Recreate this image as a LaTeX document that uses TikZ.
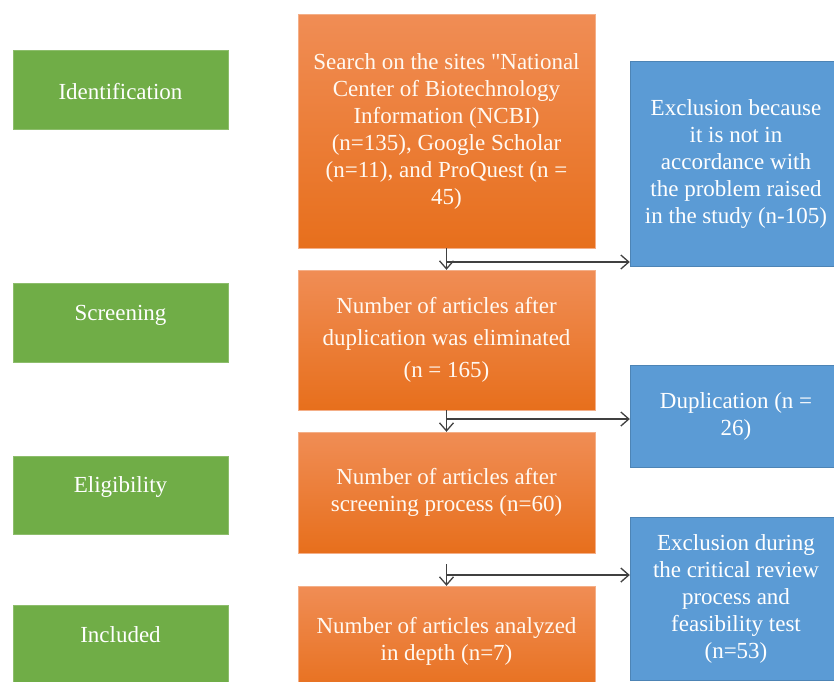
\documentclass[tikz,border=0pt]{standalone}
\usepackage{fontspec}
\setmainfont{Liberation Serif}
\newfontfamily\boxfont{Liberation Serif}
\usetikzlibrary{arrows.meta}

\definecolor{stagegreen}{HTML}{70AD47}
\definecolor{flowtop}{HTML}{F08D55}
\definecolor{flowbottom}{HTML}{E76F1C}
\definecolor{excludeblue}{HTML}{5B9BD5}
\definecolor{arrowgray}{HTML}{404040}

\tikzset{
  stage/.style={fill=stagegreen, draw=stagegreen!80!white, text=white,
    minimum width=215pt, align=center, font=\boxfont\fontsize{23}{27}\selectfont},
  raised/.style={text depth=20pt},
  flow/.style={top color=flowtop, bottom color=flowbottom, draw=flowtop!70!white,
    text=white!95!orange, minimum width=297pt, align=center,
    font=\boxfont\fontsize{23}{27}\selectfont},
  exclude/.style={fill=excludeblue, draw=excludeblue!85!black, text=white,
    minimum width=212pt, align=center, font=\boxfont\fontsize{23}{27}\selectfont},
  link/.style={draw=arrowgray, line width=1.3pt,
    -{Straight Barb[length=8pt,width=14pt,line width=1.3pt]}}
}

\begin{document}
\begin{tikzpicture}[x=1pt,y=-1pt]
           \useasboundingbox (0,0) rectangle (834,681);
           \clip (0,0) rectangle (834,681);
           \node[stage, minimum height=79pt, text height=20pt] (ident) at (120.5,89.5) {Identification};
           \node[stage, raised, minimum height=79pt] (screen) at (120.5,322.5) {Screening};
           \node[stage, raised, minimum height=78pt] (elig) at (120.5,495) {Eligibility};
           \node[stage, raised, minimum height=78pt] (incl) at (120.5,644.5) {Included};

           \node[flow, minimum height=234pt] (search) at (446.5,131)
             {Search on the sites \symbol{34}National\\Center of Biotechnology\\Information (NCBI)\\(n=135), Google Scholar\\(n=11), and ProQuest (n =\\45)};
           \node[flow, minimum height=140pt, font=\boxfont\fontsize{23}{32}\selectfont] (dedup) at (446.5,340)
             {Number of articles after\\duplication was eliminated\\(n = 165)};
           \node[flow, minimum height=121pt] (screened) at (446.5,492.5)
             {Number of articles after\\screening process (n=60)};
           \node[flow, minimum height=110pt] (depth) at (446.5,641)
             {Number of articles analyzed\\in depth (n=7)};

           \node[exclude, minimum height=205pt] (offtopic) at (736,163.5)
             {Exclusion because\\it is not in\\accordance with\\the problem raised\\in the study (n-105)};
           \node[exclude, minimum height=102pt] (dupl) at (736,416)
             {Duplication (n =\\26)};
           \node[exclude, minimum height=163pt] (review) at (736,598.5)
             {Exclusion during\\the critical review\\process and\\feasibility test\\(n=53)};

           \coordinate (split1) at (446.5,262);
           \coordinate (split2) at (446.5,419);
           \coordinate (split3) at (446.5,575);
           \draw[link] (search) -- (dedup);
           \draw[link] (split1) -- (split1 -| offtopic.west);
           \draw[link] (dedup) -- (screened);
           \draw[link] (split2) -- (split2 -| dupl.west);
           \draw[link] ([yshift=-11pt]screened.south) -- (depth);
           \draw[link] (split3) -- (split3 -| review.west);
         \end{tikzpicture}
\end{document}
